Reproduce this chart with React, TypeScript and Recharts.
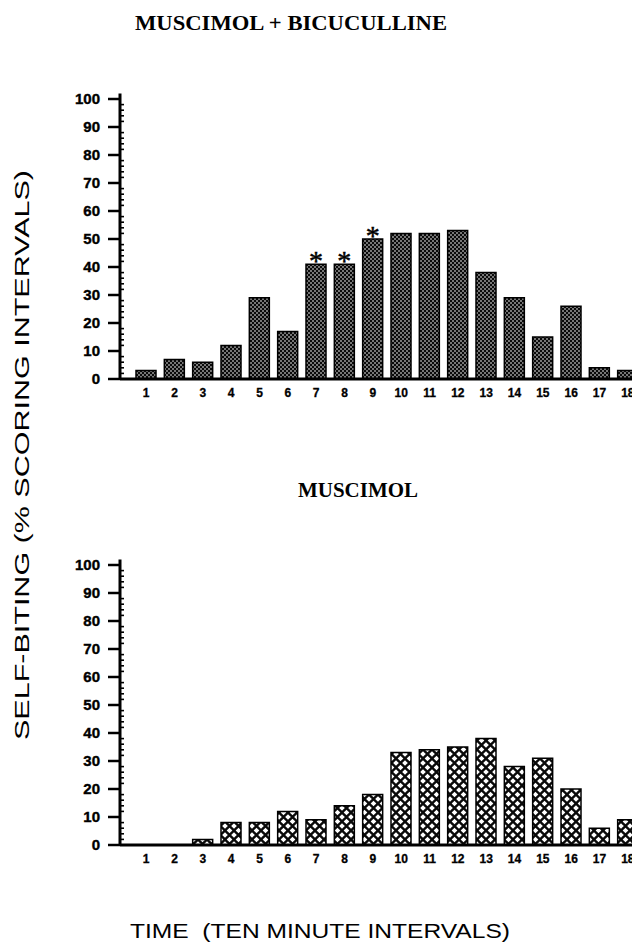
import React from 'react';
import { BarChart, Bar, XAxis, YAxis, LabelList } from 'recharts';

// ---- data ----
const intervals = ['1', '2', '3', '4', '5', '6', '7', '8', '9', '10', '11', '12', '13', '14', '15', '16', '17', '18'];
const muscimolBicuculline = [3, 7, 6, 12, 29, 17, 41, 41, 50, 52, 52, 53, 38, 29, 15, 26, 4, 3];
const muscimol = [0, 0, 2, 8, 8, 12, 9, 14, 18, 33, 34, 35, 38, 28, 31, 20, 6, 9];
const significantTop = ['7', '8', '9'];
const majorTicks = [0, 10, 20, 30, 40, 50, 60, 70, 80, 90, 100];
const minorOffsets = [2, 4, 6, 8];

const topTitle = 'MUSCIMOL + BICUCULLINE';
const bottomTitle = 'MUSCIMOL';
const yAxisTitle = 'SELF-BITING (% SCORING INTERVALS)';
const xAxisTitle = 'TIME  (TEN MINUTE INTERVALS)';

const yTicks: number[] = [];
majorTicks.forEach((m) => {
  yTicks.push(m);
  if (m < 100) minorOffsets.forEach((o) => yTicks.push(m + o));
});

const SANS = '"Liberation Sans", Arial, Helvetica, sans-serif';
const SERIF = '"Liberation Serif", "Times New Roman", serif';

const YTick = (props: any) => {
  const { x, y, payload } = props;
  const v = payload.value as number;
  if (v % 10 === 0) {
    return (
      <g>
        <line x1={x - 12} x2={x} y1={y} y2={y} stroke="#000" strokeWidth={2.5} />
        <text
          x={x - 20}
          y={y}
          dy="0.36em"
          textAnchor="end"
          fontFamily={SANS}
          fontWeight="bold"
          fontSize={15}
          fill="#000"
          stroke="#000"
          strokeWidth={0.4}
        >
          {v}
        </text>
      </g>
    );
  }
  return <line x1={x} x2={x + 4} y1={y} y2={y} stroke="#000" strokeWidth={1.6} />;
};

const XTick = (props: any) => {
  const { x, y, payload } = props;
  return (
    <text
      x={x}
      y={y + 14}
      dy="0.36em"
      textAnchor="middle"
      fontFamily={SANS}
      fontWeight="bold"
      fontSize={12}
      fill="#000"
      stroke="#000"
      strokeWidth={0.3}
    >
      {payload.value}
    </text>
  );
};

const Star = (props: any) => {
  const { x, y, width, value } = props;
  if (!significantTop.includes(String(value))) return null;
  return (
    <text
      x={Number(x) + Number(width) / 2}
      y={Number(y) + 6}
      textAnchor="middle"
      fontFamily={SERIF}
      fontSize={28}
      fill="#000"
      stroke="#000"
      strokeWidth={0.5}
    >
      *
    </text>
  );
};

function Panel({ values, pattern, stars, top }: { values: number[]; pattern: string; stars: boolean; top: number }) {
  const data = intervals.map((t, i) => ({ interval: t, value: values[i] }));
  return (
    <div style={{ position: 'absolute', left: 0, top, width: 642, height: 420 }}>
      <BarChart
        width={642}
        height={420}
        data={data}
        margin={{ top: 93.4, right: 0, left: 0, bottom: 11 }}
        barCategoryGap={0}
      >
        <XAxis
          dataKey="interval"
          height={30}
          padding={{ left: 12, right: 0 }}
          axisLine={{ stroke: '#000', strokeWidth: 3 }}
          tickLine={false}
          tickSize={0}
          tickMargin={0}
          interval={0}
          tick={<XTick />}
        />
        <YAxis
          width={120}
          domain={[0, 102]}
          ticks={yTicks}
          interval={0}
          axisLine={{ stroke: '#000', strokeWidth: 3 }}
          tickLine={false}
          tickSize={0}
          tickMargin={0}
          tick={<YTick />}
        />
        <Bar
          dataKey="value"
          barSize={20}
          fill={`url(#${pattern})`}
          stroke="#000"
          strokeWidth={1.5}
          isAnimationActive={false}
        >
          {stars ? <LabelList dataKey="interval" content={<Star />} /> : null}
        </Bar>
      </BarChart>
    </div>
  );
}

export default function App() {
  return (
    <div
      style={{
        position: 'absolute',
        left: 0,
        top: 0,
        width: 632,
        height: 947,
        overflow: 'hidden',
        background: '#fff',
      }}
    >
      <svg width={0} height={0} style={{ position: 'absolute' }}>
        <defs>
          <pattern id="dots" width={4} height={4} patternUnits="userSpaceOnUse">
            <rect width={4} height={4} fill="#0a0a0a" />
            <circle cx={1} cy={1} r={0.8} fill="#fff" />
            <circle cx={3} cy={3} r={0.8} fill="#fff" />
          </pattern>
          <pattern id="cross" width={9} height={9} patternUnits="userSpaceOnUse">
            <rect width={9} height={9} fill="#0a0a0a" />
            <polygon points="4.5,1.7 7.3,4.5 4.5,7.3 1.7,4.5" fill="#fff" />
            <polygon points="0,-2.8 2.8,0 0,2.8 -2.8,0" fill="#fff" />
            <polygon points="9,-2.8 11.8,0 9,2.8 6.2,0" fill="#fff" />
            <polygon points="0,6.2 2.8,9 0,11.8 -2.8,9" fill="#fff" />
            <polygon points="9,6.2 11.8,9 9,11.8 6.2,9" fill="#fff" />
          </pattern>
        </defs>
      </svg>

      <Panel values={muscimolBicuculline} pattern="dots" stars={true} top={0} />
      <Panel values={muscimol} pattern="cross" stars={false} top={466} />

      <svg
        width={632}
        height={947}
        style={{ position: 'absolute', left: 0, top: 0, pointerEvents: 'none' }}
      >
        <text
          x={291}
          y={22}
          dy="0.36em"
          textAnchor="middle"
          fontFamily={SERIF}
          fontSize={22}
          fontWeight="bold"
          textLength={312}
          lengthAdjust="spacingAndGlyphs"
          fill="#000"
        >
          {topTitle}
        </text>
        <text
          x={358}
          y={489}
          dy="0.36em"
          textAnchor="middle"
          fontFamily={SERIF}
          fontSize={22}
          fontWeight="bold"
          textLength={120}
          lengthAdjust="spacingAndGlyphs"
          fill="#000"
        >
          {bottomTitle}
        </text>
        <text
          x={320}
          y={930}
          dy="0.36em"
          textAnchor="middle"
          fontFamily={SANS}
          fontSize={21}
          textLength={380}
          lengthAdjust="spacingAndGlyphs"
          fill="#000"
          style={{ whiteSpace: 'pre' }}
        >
          {xAxisTitle}
        </text>
        <text
          x={0}
          y={0}
          dy="0.36em"
          textAnchor="middle"
          fontFamily={SANS}
          fontSize={21}
          textLength={570}
          lengthAdjust="spacingAndGlyphs"
          fill="#000"
          transform="translate(21,455) rotate(-90)"
        >
          {yAxisTitle}
        </text>
      </svg>
    </div>
  );
}
